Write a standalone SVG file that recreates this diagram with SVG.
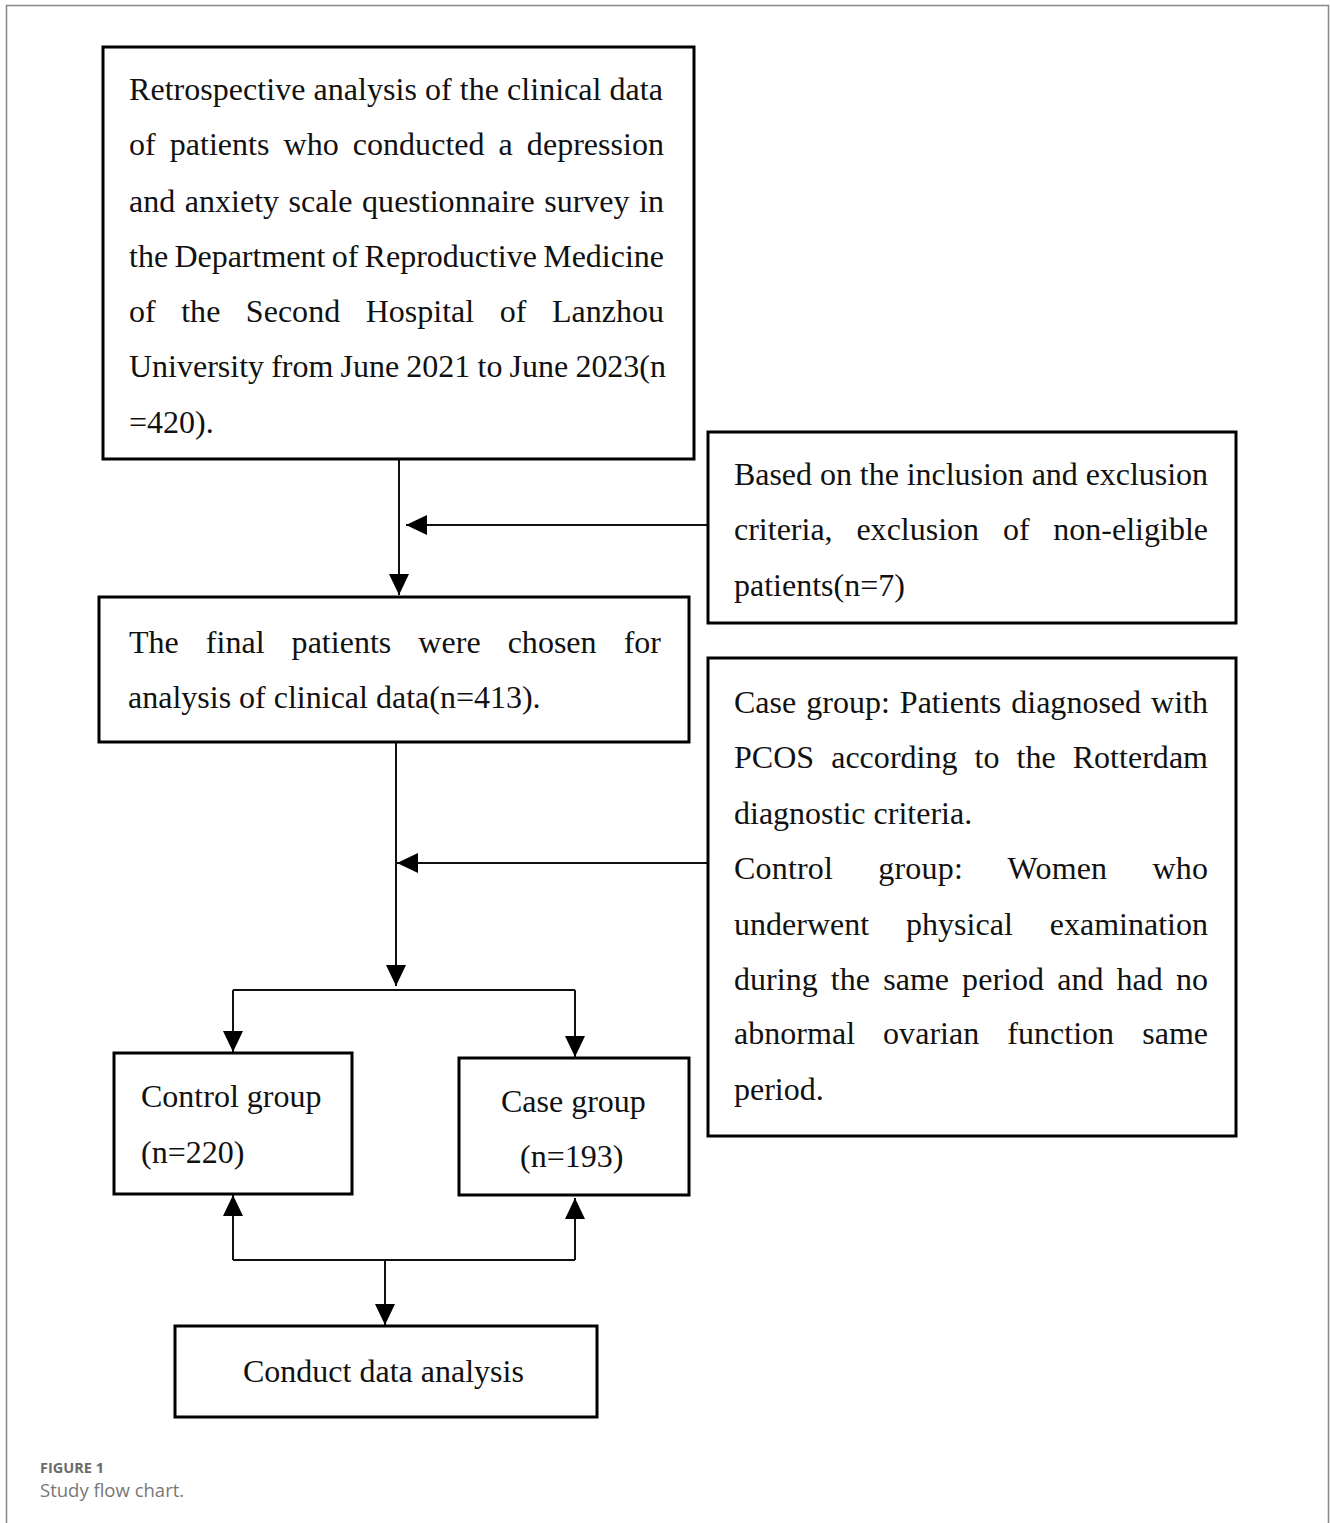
<svg xmlns="http://www.w3.org/2000/svg" width="1330" height="1523" viewBox="0 0 1330 1523">
<style>
.box{fill:#fff;stroke:#000;stroke-width:3}
.t{font-family:"Liberation Serif","Times New Roman",serif;font-size:32px;fill:#111}
.c{fill:none;stroke:#111;stroke-width:2}
.cap1{font-family:"Open Sans","Noto Sans",sans-serif;font-size:14.5px;font-weight:bold;fill:#6b6b6b}
.cap2{font-family:"Open Sans","Noto Sans",sans-serif;font-size:18.5px;fill:#777}
</style>
<defs>
<marker id="ah" markerUnits="userSpaceOnUse" markerWidth="22" markerHeight="22" viewBox="0 0 22 22" refX="21" refY="11" orient="auto">
<path d="M0,1 L21,11 L0,21 Z" fill="#000"/>
</marker>
</defs>
<rect width="1330" height="1523" fill="#fff"/>
<path d="M6.5,1523 V5.5 H1328.5 V1523" fill="none" stroke="#888" stroke-width="1.5"/>

<g id="connectors">
<path class="c" d="M399,459 V595" marker-end="url(#ah)"/>
<path class="c" d="M708,525 H406" marker-end="url(#ah)"/>
<path class="c" d="M396,742 V986" marker-end="url(#ah)"/>
<path class="c" d="M708,863 H397" marker-end="url(#ah)"/>
<path class="c" d="M233,990 H575"/>
<path class="c" d="M233,990 V1052" marker-end="url(#ah)"/>
<path class="c" d="M575,990 V1057" marker-end="url(#ah)"/>
<path class="c" d="M233,1260 H575"/>
<path class="c" d="M233,1260 V1195" marker-end="url(#ah)"/>
<path class="c" d="M575,1260 V1198" marker-end="url(#ah)"/>
<path class="c" d="M385,1260 V1325" marker-end="url(#ah)"/>
</g>

<g id="n1">
<rect class="box" x="103" y="47" width="591" height="412"/>
<text class="t" x="129" y="100" textLength="534" lengthAdjust="spacing">Retrospective analysis of the clinical data</text>
<text class="t" x="129" y="155" word-spacing="6" textLength="535" lengthAdjust="spacing">of patients who conducted a depression</text>
<text class="t" x="129" y="212" word-spacing="1.5" textLength="535" lengthAdjust="spacing">and anxiety scale questionnaire survey in</text>
<text class="t" x="129" y="267" word-spacing="-1.7" textLength="535" lengthAdjust="spacing">the Department of Reproductive Medicine</text>
<text class="t" x="129" y="322" word-spacing="17.5" textLength="535" lengthAdjust="spacing">of the Second Hospital of Lanzhou</text>
<text class="t" x="129" y="377" word-spacing="-0.8" textLength="537" lengthAdjust="spacing">University from June 2021 to June 2023(n</text>
<text class="t" x="129" y="433">=420).</text>
</g>

<g id="n2">
<rect class="box" x="708" y="432" width="528" height="191"/>
<text class="t" x="734" y="485" textLength="474" lengthAdjust="spacing">Based on the inclusion and exclusion</text>
<text class="t" x="734" y="540" word-spacing="15.8" textLength="474" lengthAdjust="spacing">criteria, exclusion of non-eligible</text>
<text class="t" x="734" y="596">patients(n=7)</text>
</g>

<g id="n3">
<rect class="box" x="99" y="597" width="590" height="145"/>
<text class="t" x="129" y="653" word-spacing="19" textLength="532" lengthAdjust="spacing">The final patients were chosen for</text>
<text class="t" x="128" y="708">analysis of clinical data(n=413).</text>
</g>

<g id="n4">
<rect class="box" x="708" y="658" width="528" height="478"/>
<text class="t" x="734" y="713" word-spacing="2" textLength="474" lengthAdjust="spacing">Case group: Patients diagnosed with</text>
<text class="t" x="734" y="768" word-spacing="9" textLength="474" lengthAdjust="spacing">PCOS according to the Rotterdam</text>
<text class="t" x="734" y="824">diagnostic criteria.</text>
<text class="t" x="734" y="879" word-spacing="37" textLength="474" lengthAdjust="spacing">Control group: Women who</text>
<text class="t" x="734" y="935" word-spacing="29" textLength="474" lengthAdjust="spacing">underwent physical examination</text>
<text class="t" x="734" y="990" word-spacing="5" textLength="474" lengthAdjust="spacing">during the same period and had no</text>
<text class="t" x="734" y="1044" word-spacing="20" textLength="474" lengthAdjust="spacing">abnormal ovarian function same</text>
<text class="t" x="734" y="1100">period.</text>
</g>

<g id="n5">
<rect class="box" x="114" y="1053" width="238" height="141"/>
<text class="t" x="141" y="1107">Control group</text>
<text class="t" x="141" y="1163">(n=220)</text>
</g>

<g id="n6">
<rect class="box" x="459" y="1058" width="230" height="137"/>
<text class="t" x="501" y="1112">Case group</text>
<text class="t" x="520" y="1167">(n=193)</text>
</g>

<g id="n7">
<rect class="box" x="175" y="1326" width="422" height="91"/>
<text class="t" x="243" y="1382">Conduct data analysis</text>
</g>

<text class="cap1" x="40" y="1473">FIGURE 1</text>
<text class="cap2" x="40" y="1497">Study flow chart.</text>
</svg>
